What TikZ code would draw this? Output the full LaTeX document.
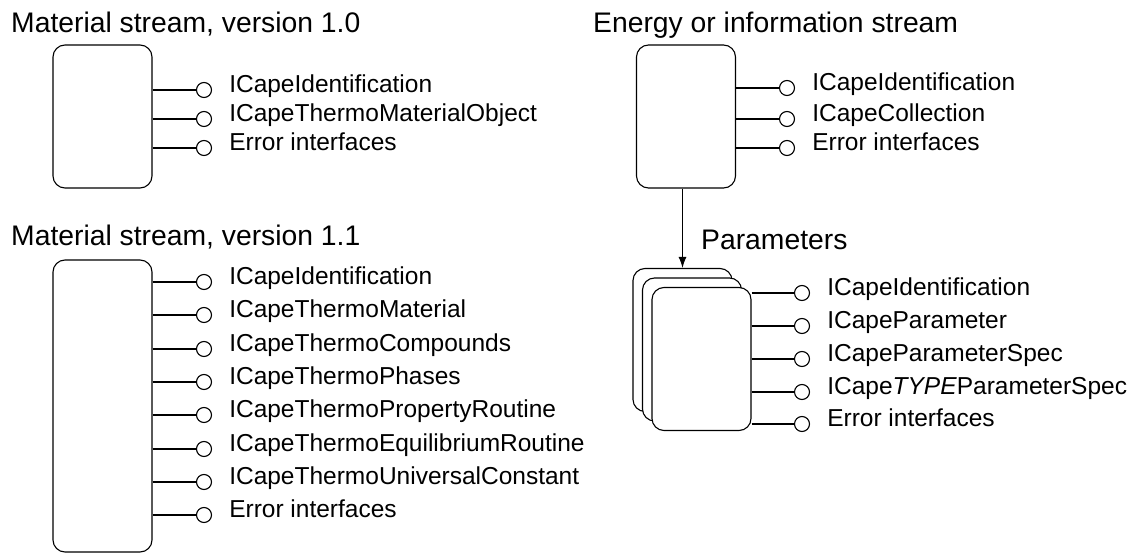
\documentclass[tikz,border=0pt]{standalone}
\usepackage{fontspec}
\setmainfont{Liberation Sans}
\usetikzlibrary{positioning,arrows.meta}
\tikzset{
	component/.style = {draw, fill=white, rectangle, rounded corners=12pt, minimum width=99pt, minimum height=143pt, line width=1.1pt},
	port/.style      = {draw, fill=white, circle, minimum size=15pt, inner sep=0pt, line width=1.1pt},
	portlabel/.style = {inner sep=0pt, text height=0.72em, text depth=0.21em, font=\fontsize{24.5}{29}\selectfont, node distance=17pt},
	heading/.style   = {inner sep=0pt, anchor=base west, font=\fontsize{28.3}{34}\selectfont},
	wire/.style      = {line width=1.1pt},
}

\begin{document}
\begin{tikzpicture}[x=1pt, y=-1pt, >={Latex[length=11pt, width=8pt]}]
		\useasboundingbox (0,0) rectangle (1141,553);

		% Draw the headings
		\node[heading] (msatitle) at (11,33)  {Material stream, version 1.0};
		\node[heading] (msbtitle) at (11,246) {Material stream, version 1.1};
		\node[heading] (estitle)  at (593,33) {Energy or information stream};
		\node[heading] (partitle) at (701,250) {Parameters};

		% Draw the component boxes
		\node[component] (msa) at (102.5,116.5) {};
		\node[component, minimum height=292pt] (msb) at (102.5,406) {};
		\node[component] (es) at (686,116.5) {};

		% Draw the stack of parameter boxes
		\node[component] (para) at (682.5,340) {};
		\node[component, anchor=north west] (parb) at ([shift={(9.5,9.5)}]para.north west) {};
		\node[component, anchor=north west] (parc) at ([shift={(9.5,9.5)}]parb.north west) {};

		% Connect the interfaces
		\foreach \y/\txt [count=\i] in {90/ICapeIdentification, 119/ICapeThermoMaterialObject, 148/Error interfaces} {
			\node[port] (msa-\i) at (204,\y) {};
			\node[portlabel, right=of msa-\i] {\txt};
			\draw[wire] (msa-\i -| msa.east) -- (msa-\i);
		}
		\foreach \y/\txt [count=\i] in {282/ICapeIdentification, 315/ICapeThermoMaterial, 349/ICapeThermoCompounds, 382/ICapeThermoPhases, 415/ICapeThermoPropertyRoutine, 449/ICapeThermoEquilibriumRoutine, 482/ICapeThermoUniversalConstant, 515/Error interfaces} {
			\node[port] (msb-\i) at (204,\y) {};
			\node[portlabel, right=of msb-\i] {\txt};
			\draw[wire] (msb-\i -| msb.east) -- (msb-\i);
		}
		\foreach \y/\txt [count=\i] in {88/ICapeIdentification, 119/ICapeCollection, 148/Error interfaces} {
			\node[port] (es-\i) at (787,\y) {};
			\node[portlabel, right=of es-\i] {\txt};
			\draw[wire] (es-\i -| es.east) -- (es-\i);
		}
		\foreach \y/\txt [count=\i] in {293/ICapeIdentification, 326/ICapeParameter, 359/ICapeParameterSpec, 392/ICape\textit{TYPE}ParameterSpec, 424/Error interfaces} {
			\node[port] (par-\i) at (802,\y) {};
			\node[portlabel, right=of par-\i] {\txt};
			\draw[wire] (par-\i -| parc.east) -- (par-\i);
		}

		\draw[wire, ->] (para.north |- es.south) -- (para.north);
	\end{tikzpicture}
\end{document}
